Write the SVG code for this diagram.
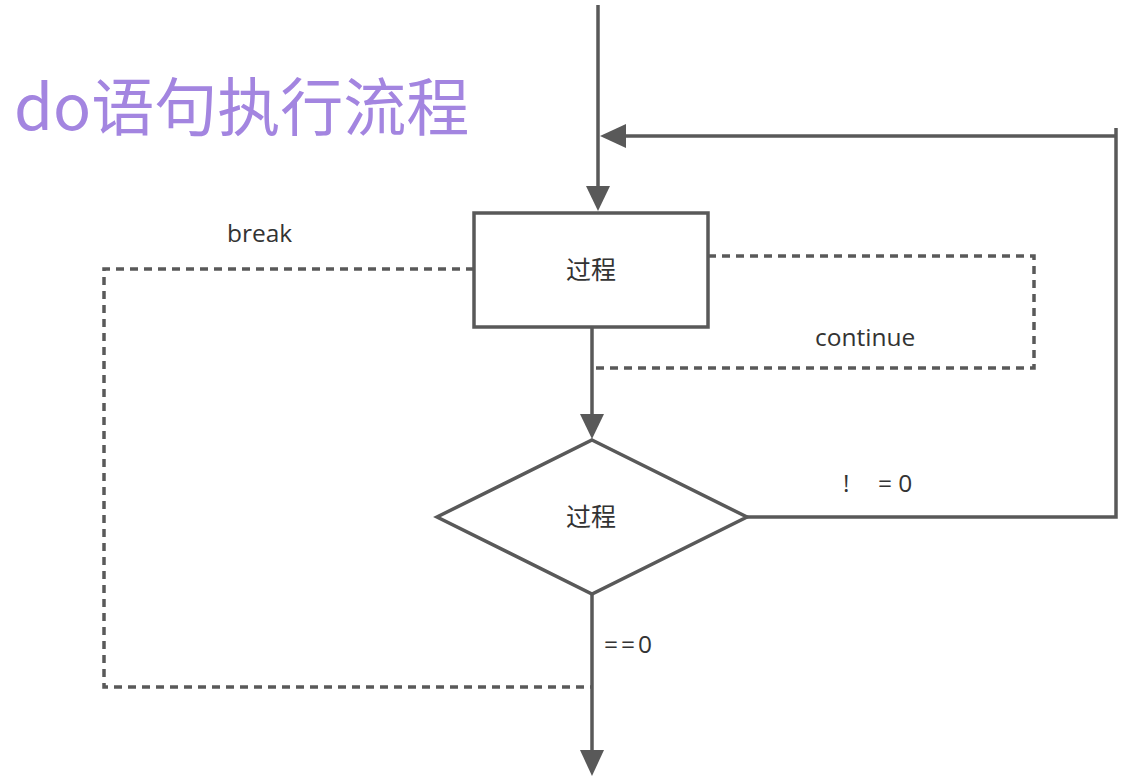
<svg xmlns="http://www.w3.org/2000/svg" width="1122" height="777" viewBox="0 0 1122 777">
<defs>
<style>
.ln{stroke:#595959;stroke-width:3.5;fill:none}
.ds{stroke:#595959;stroke-width:3.5;fill:none;stroke-dasharray:8 6}
.t{font-family:"Open Sans","Noto Sans CJK SC",sans-serif;font-size:24.5px;fill:#333}
.c{font-family:"Noto Sans CJK SC",sans-serif;font-size:25px;fill:#333;text-anchor:middle}
</style>
</defs>
<rect width="1122" height="777" fill="#fff"/>
<text x="14" y="130" font-family="'Noto Sans CJK SC','Open Sans',sans-serif" font-size="63" fill="#a385e0">do语句执行流程</text>
<g id="connectors">
<path class="ln" d="M598,5 V190"/>
<path d="M586,186 L598,211 L610,186 Z" fill="#595959"/>
<path class="ln" d="M1116,128 V517 H747"/>
<path class="ln" d="M1116,136 H622"/>
<path d="M626,124 L600,136 L626,148 Z" fill="#595959"/>
<path class="ln" d="M592,327 V418"/>
<path d="M580,414 L592,439 L604,414 Z" fill="#595959"/>
<path class="ln" d="M592,594 V752"/>
<path d="M580,750 L592,776 L604,750 Z" fill="#595959"/>
<path class="ds" d="M474,269 H104 V687 H591"/>
<path class="ds" d="M708,256 H1034 V368 H594"/>
</g>
<g id="box">
<rect x="474" y="213" width="234" height="114" class="ln" fill="#fff"/>
<text class="c" x="591" y="279">过程</text>
</g>
<g id="decision">
<polygon points="592,440 747,517 592,594 437,517" class="ln" fill="#fff"/>
<text class="c" x="591" y="526">过程</text>
</g>
<g id="labels">
<text class="t" x="227" y="242">break</text>
<text class="t" x="815" y="346">continue</text>
<text class="t" x="843" y="492">!</text>
<text class="t" x="878" y="492">= 0</text>
<text class="t" x="604" y="653" letter-spacing="3">==0</text>
</g>
</svg>
